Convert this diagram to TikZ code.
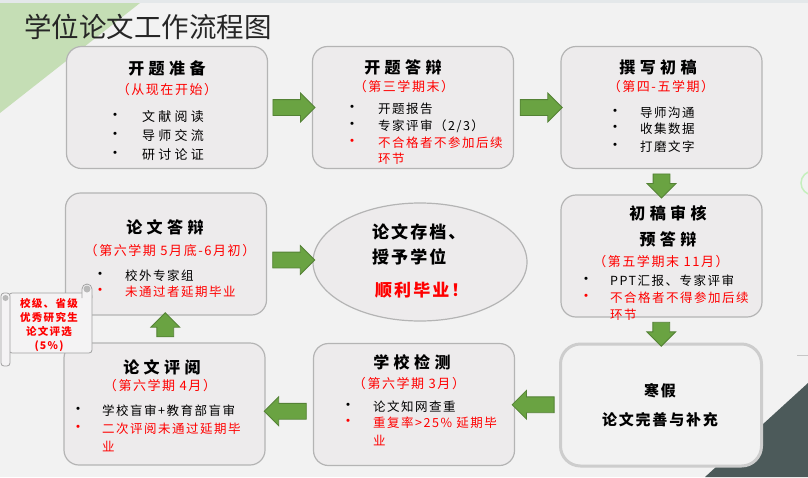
\documentclass[tikz,border=0pt]{standalone}
\usepackage{fontspec}
\setmainfont{Noto Sans CJK SC}
\newfontfamily\headfont[LetterSpace=28]{Noto Sans CJK SC}
\newfontfamily\loosefont[LetterSpace=25]{Noto Sans CJK SC}
\newfontfamily\bodyfont[LetterSpace=12]{Noto Sans CJK SC}
\usepackage{tikz}
\usetikzlibrary{positioning, shapes.geometric, shapes.arrows}

\definecolor{paper}{RGB}{242,242,242}
\definecolor{topstrip}{RGB}{228,232,234}
\definecolor{leaf}{RGB}{197,222,181}
\definecolor{darkslate}{RGB}{76,90,90}
\definecolor{boxfill}{RGB}{237,235,236}
\definecolor{boxline}{RGB}{180,180,180}
\definecolor{winterline}{RGB}{205,205,205}
\definecolor{arrowfill}{RGB}{106,163,66}
\definecolor{arrowline}{RGB}{84,130,53}
\definecolor{titlegray}{RGB}{38,38,38}
\definecolor{rollline}{RGB}{160,160,160}

\begin{document}
\begin{tikzpicture}[x=1pt, y=-1pt,
        box/.style={draw=boxline, fill=boxfill, line width=1.2pt, rounded corners=15pt, minimum width=201pt, minimum height=122pt},
        head/.style={inner sep=0pt, font=\headfont\bfseries\fontsize{16}{19}\selectfont},
        when/.style={inner sep=0pt, text=red, font=\bodyfont\fontsize{13}{15}\selectfont},
        dot/.style={inner sep=0pt, font=\fontsize{15}{16}\selectfont},
        item/.style={anchor=west, inner sep=0pt, font=\bodyfont\fontsize{12.5}{14}\selectfont},
        warn/.style={item, text=red},
        big/.style={anchor=west, inner sep=0pt, font=\bodyfont\bfseries\fontsize{17}{20}\selectfont},
        fat/.style={single arrow, draw=arrowline, fill=arrowfill, line width=0.8pt, inner xsep=0pt, inner ysep=7.5pt, single arrow head extend=6.5pt, minimum height=42pt},
        fatv/.style={fat, minimum height=24pt, inner ysep=8pt, single arrow head extend=6pt},
        roll/.style={draw=rollline, fill=boxfill!60!white, line width=0.8pt}]

    \useasboundingbox (0,0) rectangle (808,477);
    \clip (0,0) rectangle (808,477);
    \fill[paper] (0,0) rectangle (808,477);
    \fill[topstrip] (0,0) rectangle (808,3);
    \fill[leaf] (0,3) -- (140,3) -- (0,113) -- cycle;
    \fill[darkslate] (705,477) -- (808,383) -- (808,477) -- cycle;
    \draw[leaf!80!green!60, line width=1.5pt] (813,183) circle (12pt);
    \draw[gray!45, line width=0.8pt] (797,355) -- (808,355);

    \node[anchor=west, inner sep=0pt, text=titlegray, font=\fontsize{27.5}{30}\selectfont] (title) at (24,27) {学位论文工作流程图};

    \node[box] (prep) at (167,107.5) {};
    \node[box] (open) at (413,107.5) {};
    \node[box] (draft) at (661.5,107.5) {};
    \node[box] (review) at (661.5,256) {};
    \node[box, fill=paper, draw=winterline, line width=3pt, rounded corners=20pt] (winter) at (661,405) {};
    \node[box] (check) at (414,404.5) {};
    \node[box] (blind) at (164.5,404) {};
    \node[box] (defense) at (166,254) {};
    \node[ellipse, draw=boxline, fill=boxfill, line width=1.2pt, minimum width=214pt, minimum height=118pt] (archive) at (420,262) {};

    \path (prep.east) -- node[fat] (a1) {} (open.west);
    \path (open.east) -- node[fat] (a2) {} (draft.west);
    \path (draft.south) -- node[fatv, rotate=-90] (a3) {} (review.north);
    \path (review.south) -- node[fatv, rotate=-90] (a4) {} (winter.north);
    \path (winter.west) -- node[fat, rotate=180] (a5) {} (check.east);
    \path (check.west) -- node[fat, yshift=-7pt, rotate=180] (a6) {} (blind.east);
    \path (blind.north) -- node[fatv, rotate=90] (a7) {} (defense.south);
    \path (defense.east) -- node[fat, yshift=-2pt] (a8) {} (archive.west);

    \node[head] (prephead) at (167,68) {开题准备};
    \node[when] (prepwhen) at (167,90) {（从现在开始）};
    \node[dot] (p1) at (115,117) {•};
    \node[dot] (p2) at (115,136) {•};
    \node[dot] (p3) at (115,155) {•};
    \node[item, font=\loosefont\fontsize{13}{15}\selectfont] (pt1) at (142,117) {文献阅读};
    \node[item, font=\loosefont\fontsize{13}{15}\selectfont] (pt2) at (142,136) {导师交流};
    \node[item, font=\loosefont\fontsize{13}{15}\selectfont] (pt3) at (142,155) {研讨论证};

    \node[head] (openhead) at (403,67) {开题答辩};
    \node[when] (openwhen) at (404,87) {（第三学期末）};
    \node[dot] (o1) at (352,109) {•};
    \node[dot] (o2) at (352,126) {•};
    \node[dot, text=red] (o3) at (352,143) {•};
    \node[item] (ot1) at (378,109) {开题报告};
    \node[item] (ot2) at (378,126) {专家评审（2/3）};
    \node[warn] (ot3) at (378,143) {不合格者不参加后续};
    \node[warn] (ot4) at (378,159) {环节};

    \node[head] (drafthead) at (658,67) {撰写初稿};
    \node[when] (draftwhen) at (661,87) {（第四-五学期）};
    \node[dot] (d1) at (615,113) {•};
    \node[dot] (d2) at (615,129) {•};
    \node[dot] (d3) at (615,147) {•};
    \node[item] (dt1) at (640,113) {导师沟通};
    \node[item] (dt2) at (640,129) {收集数据};
    \node[item] (dt3) at (640,147) {打磨文字};

    \node[head] (reviewhead) at (668,213) {初稿审核};
    \node[head] (reviewhead2) at (668,239) {预答辩};
    \node[when] (reviewwhen) at (661,262) {（第五学期末 11月）};
    \node[dot] (r1) at (586,281) {•};
    \node[dot, text=red] (r2) at (586,298) {•};
    \node[item] (rt1) at (610,281) {PPT汇报、专家评审};
    \node[warn] (rt2) at (610,298) {不合格者不得参加后续};
    \node[warn] (rt3) at (610,315) {环节};

    \node[head] (defensehead) at (165,227) {论文答辩};
    \node[when] (defensewhen) at (170,251) {（第六学期 5月底-6月初）};
    \node[dot] (f1) at (100,276) {•};
    \node[dot, text=red] (f2) at (100,292) {•};
    \node[item] (ft1) at (125,276) {校外专家组};
    \node[warn] (ft2) at (125,292) {未通过者延期毕业};

    \node[big] (archive1) at (372,232) {论文存档、};
    \node[big] (archive2) at (372,257) {授予学位};
    \node[big, text=red] (archive3) at (375,290) {顺利毕业！};

    \node[head] (blindhead) at (162,367) {论文评阅};
    \node[when] (blindwhen) at (160,386) {（第六学期 4月）};
    \node[dot] (b1) at (78,411) {•};
    \node[dot, text=red] (b2) at (78,429) {•};
    \node[item] (bt1) at (102,411) {学校盲审+教育部盲审};
    \node[warn] (bt2) at (102,429) {二次评阅未通过延期毕};
    \node[warn] (bt3) at (102,446) {业};

    \node[head] (checkhead) at (412,362) {学校检测};
    \node[when] (checkwhen) at (409,384) {（第六学期 3月）};
    \node[dot] (c1) at (348,407) {•};
    \node[dot, text=red] (c2) at (348,423) {•};
    \node[item] (ct1) at (373,407) {论文知网查重};
    \node[warn] (ct2) at (373,423) {重复率>25\% 延期毕};
    \node[warn] (ct3) at (373,440) {业};

    \node[inner sep=0pt, font=\bodyfont\bfseries\fontsize{15}{18}\selectfont] (winter1) at (660,391) {寒假};
    \node[inner sep=0pt, font=\bodyfont\bfseries\fontsize{15}{18}\selectfont] (winter2) at (660,420) {论文完善与补充};

    \filldraw[roll, rounded corners=3pt] (9,293) rectangle (92,353);
    \filldraw[roll] (82,298) -- (82,289) arc (180:0:5pt) -- (92,298);
    \fill[gray!55] (87,289) circle (3.5pt);
    \filldraw[roll, rounded corners=3pt] (1,293) rectangle (10,366);
    \fill[gray!55] (5.5,298) circle (3pt);
    \node[align=center, text=red, font=\bodyfont\bfseries\fontsize{10.5}{14}\selectfont] (award) at (49,325) {校级、省级\\优秀研究生\\论文评选\\(5\%)};
\end{tikzpicture}
\end{document}
